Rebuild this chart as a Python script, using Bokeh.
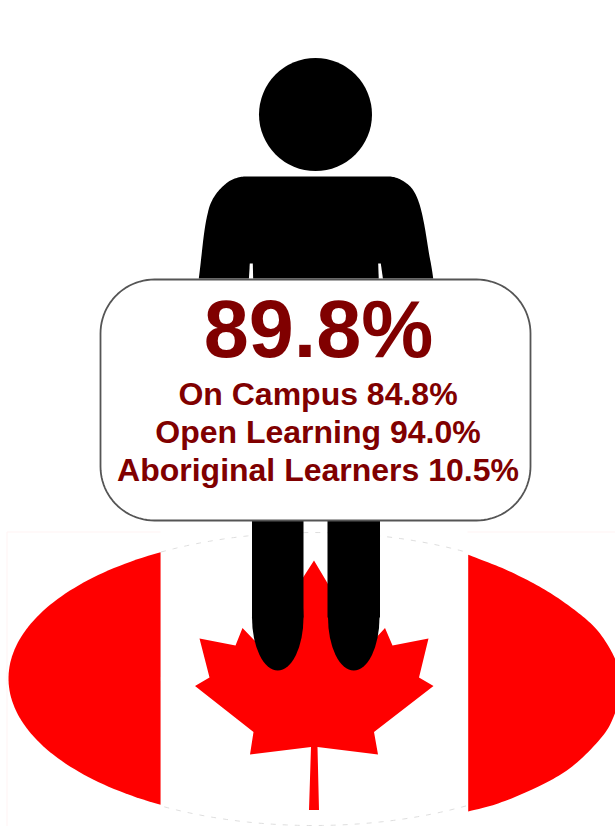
import numpy as np
from bokeh.plotting import figure
from bokeh.models import Range1d
from bokeh.core.properties import value
from bokeh.embed import file_html
from bokeh.resources import INLINE

# ---- figures shown on the sign ----
headline_value = 89.8
sub_labels = ["On Campus", "Open Learning", "Aboriginal Learners"]
sub_values = [84.8, 94.0, 10.5]

DARK_RED = "#800000"
FLAG_RED = "#ff0000"
FONT = value("Liberation Sans")

# ---- pictogram outlines, in page pixels ----
leaf_x = [313.5, 326, 333, 360, 373, 384.5, 392, 428, 418.5, 433, 373.5, 377.5, 317, 318.5,
          308.5, 310.5, 249.5, 253, 194.5, 209, 199, 235, 242, 254, 266, 293, 300]
leaf_y = [560, 581, 593, 640, 640, 627.5, 645, 638, 677, 685.5, 731.5, 754, 746.5, 809.5,
          809.5, 746.5, 754, 731.5, 685.5, 677, 638, 645, 627.5, 640, 640, 593, 581]
shoulder_l_x = [260, 243.3, 230, 218.3, 210.7, 206.7, 203.3, 198.3, 190]
shoulder_l_y = [176, 176, 180, 190, 201.7, 215, 235, 278, 340]
shoulder_r_x = [440, 432.7, 428.3, 423.3, 418.3, 411.7, 401.7, 390, 370]
shoulder_r_y = [340, 278, 251.7, 221.7, 201.7, 188.3, 180, 176, 176]
flag_r_x = [460, 467.7, 505, 541.7, 571.7, 595, 610, 618, 621, 614, 601.7, 571.7, 538, 498.3, 467.7, 460]
flag_r_y = [551, 554.3, 569, 587.7, 607.7, 627.7, 649.3, 668, 688, 714, 736, 766, 786, 802.7, 811, 813]
slit_xs = [[249.3, 252.3, 252.7, 248.3], [377.7, 380.3, 382.7, 378.3]]
slit_ys = [[263, 263, 280, 280], [263, 263, 280, 280]]


def smooth(xs, ys, n=12):
    """Catmull-Rom through the read points; the first and last only steer the ends."""
    P = np.column_stack([xs, ys]).astype(float)
    out = []
    for i in range(1, len(P) - 2):
        for t in np.linspace(0, 1, n, endpoint=False):
            out.append(0.5 * (2 * P[i] + (P[i + 1] - P[i - 1]) * t
                              + (2 * P[i - 1] - 5 * P[i] + 4 * P[i + 1] - P[i + 2]) * t ** 2
                              + (3 * P[i] - P[i - 1] - 3 * P[i + 1] + P[i + 2]) * t ** 3))
    out.append(P[-2])
    out = np.array(out)
    return list(out[:, 0]), list(out[:, 1])


def ellipse_arc(cx, cy, a, b, t0, t1, n=90):
    t = np.radians(np.linspace(t0, t1, n))
    return cx + a * np.cos(t), cy + b * np.sin(t)


def rounded_box(x0, y0, x1, y1, r):
    xs, ys = [], []
    for cx, cy, t0 in [(x1 - r, y0 + r, -90), (x1 - r, y1 - r, 0), (x0 + r, y1 - r, 90), (x0 + r, y0 + r, 180)]:
        ax, ay = ellipse_arc(cx, cy, r, r, t0, t0 + 90, 24)
        xs += list(ax)
        ys += list(ay)
    return xs, ys


p = figure(width=615, height=826, x_range=Range1d(0, 615), y_range=Range1d(826, 0),
           x_axis_type=None, y_axis_type=None, toolbar_location=None, output_backend="svg",
           min_border=0, outline_line_color=None, background_fill_color="white",
           border_fill_color="white")
p.grid.visible = False

# faint frame of the flag image
p.line([160, 6.5, 6.5], [531.5, 531.5, 826], line_color="#fff3f3", line_width=1)
p.line([467, 615], [531.5, 531.5], line_color="#fff3f3", line_width=1)

# flag bands: the oval's left and right ends
lx, ly = ellipse_arc(313, 678, 305, 146, 120.1, 239.9)
p.patch(lx, ly, fill_color=FLAG_RED, line_color=None)
rx, ry = smooth(flag_r_x, flag_r_y)
p.patch(rx, ry, fill_color=FLAG_RED, line_color=None)

# faint dashes on the white band
for t0, t1, cy, b in [(240, 300, 678, 146), (60, 120, 679, 146)]:
    ax, ay = ellipse_arc(313, cy, 305, b, t0, t1)
    p.line(ax, ay, line_color="#dedede", line_width=1, line_dash="5 7")

p.patch(leaf_x, leaf_y, fill_color=FLAG_RED, line_color=None)

# person
p.quad(left=[251.5, 327], right=[303, 379.5], top=[505, 505], bottom=[617, 617],
       fill_color="black", line_color=None)
p.ellipse(x=[277.25, 353.25], y=[617, 617], width=51.5, height=106, fill_color="black", line_color=None)
lsx, lsy = smooth(shoulder_l_x, shoulder_l_y)
rsx, rsy = smooth(shoulder_r_x, shoulder_r_y)
p.patch(lsx + rsx, lsy + rsy, fill_color="black", line_color=None)
p.patches(slit_xs, slit_ys, fill_color="white", line_color=None)
p.circle(x=[315], y=[114], radius=56.5, fill_color="black", line_color=None)

# sign
bx, by = rounded_box(100, 279, 530, 520, 54)
p.patch(bx, by, fill_color="white", line_color="#555555", line_width=1.8)

p.text(x=[318], y=[358 - 30], text=[f"{headline_value:.1f}%"], text_font=FONT, text_font_style="bold",
       text_font_size="81px", text_color=DARK_RED, text_align="center", text_baseline="alphabetic")
sub_text = [f"{n} {v:.1f}%" for n, v in zip(sub_labels, sub_values)]
p.text(x=[317.5] * 3, y=[405.5 - 12, 443 - 12, 481 - 12], text=sub_text, text_font=FONT, text_font_style="bold",
       text_font_size="32px", text_color=DARK_RED, text_align="center", text_baseline="alphabetic")

open("out.html", "w").write(file_html(p, INLINE))
